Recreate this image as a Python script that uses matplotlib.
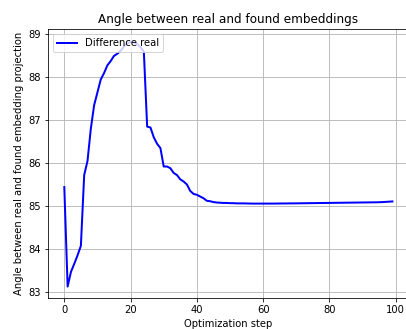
import matplotlib
matplotlib.use("Agg")
import matplotlib.pyplot as plt

steps = list(range(100))
angle = [85.44, 83.12, 83.46, 83.65, 83.85, 84.07, 85.72, 86.05, 86.8, 87.35,
         87.65, 87.95, 88.1, 88.28, 88.38, 88.5, 88.55, 88.62, 88.72, 88.8,
         88.82, 88.82, 88.78, 88.7, 88.6, 86.85, 86.83, 86.6, 86.45, 86.35,
         85.92, 85.92, 85.88, 85.77, 85.72, 85.62, 85.57, 85.5, 85.35, 85.28,
         85.26, 85.22, 85.18, 85.12, 85.11, 85.09, 85.08, 85.075, 85.07, 85.07,
         85.065, 85.065, 85.06, 85.06, 85.06, 85.058, 85.056, 85.055, 85.055, 85.055,
         85.055, 85.055, 85.055, 85.055, 85.056, 85.057, 85.058, 85.058, 85.06, 85.06,
         85.061, 85.062, 85.063, 85.064, 85.065, 85.066, 85.067, 85.068, 85.069, 85.07,
         85.071, 85.072, 85.073, 85.074, 85.075, 85.076, 85.077, 85.078, 85.079, 85.08,
         85.081, 85.082, 85.083, 85.084, 85.085, 85.087, 85.09, 85.095, 85.1, 85.105]

fig = plt.figure(figsize=(406/72, 329/72), dpi=72)
ax = fig.add_axes([47.9/406, 31.3/329, (408.8-47.9)/406, 268.4/329])
ax.plot(steps, angle, color="blue", linewidth=2, label="Difference real")
ax.set_xlim(-4.95, 103.95)
ax.set_ylim(82.86, 89.12)
ax.grid(True)
ax.set_title("Angle between real and found embeddings")
ax.set_xlabel("Optimization step")
ax.set_ylabel("Angle between real and found embedding projection")
ax.legend(loc="upper left")
fig.savefig("out.png", dpi=72)
